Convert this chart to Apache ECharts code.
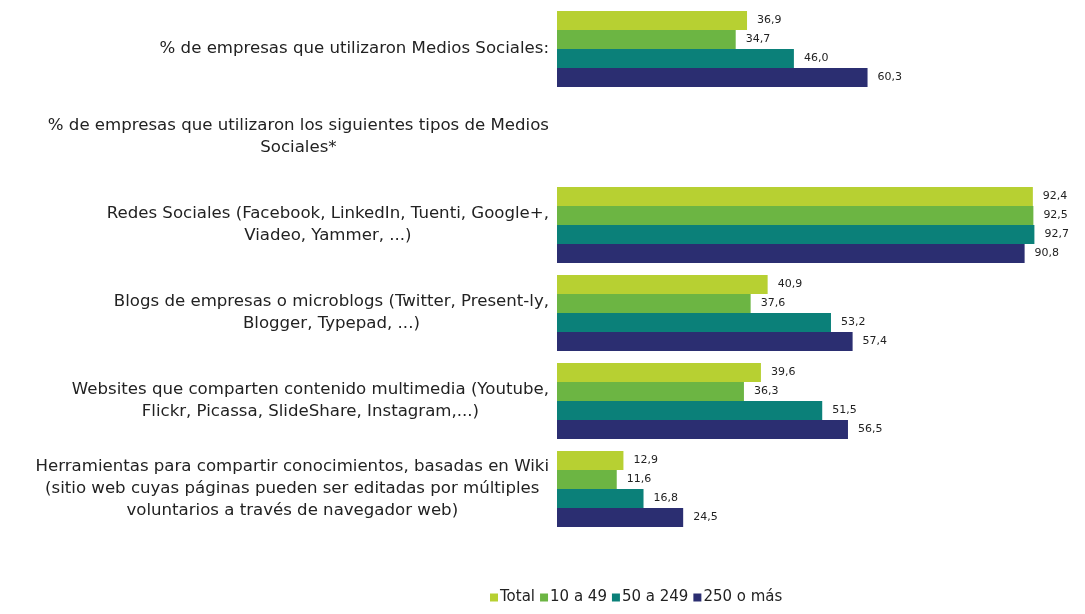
<!DOCTYPE html>
<html><head><meta charset="utf-8">
<script src="https://cdn.jsdelivr.net/npm/echarts@6/dist/echarts.min.js"></script>
<style>html,body{margin:0;padding:0;background:#fff}#c{width:1085px;height:614px}</style>
</head><body><div id="c"></div>
<script>
const categories = [
  "% de empresas que utilizaron Medios Sociales:",
  "% de empresas que utilizaron los siguientes tipos de Medios\nSociales*",
  "Redes Sociales (Facebook, LinkedIn, Tuenti, Google+,\nViadeo, Yammer, ...)",
  "Blogs de empresas o microblogs (Twitter, Present-ly,\nBlogger, Typepad, ...)",
  "Websites que comparten contenido multimedia (Youtube,\nFlickr, Picassa, SlideShare, Instagram,...)",
  "Herramientas para compartir conocimientos, basadas en Wiki\n(sitio web cuyas páginas pueden ser editadas por múltiples\nvoluntarios a través de navegador web)"
];
const seriesNames = ["Total", "10 a 49", "50 a 249", "250 o más"];
const total   = [36.9, null, 92.4, 40.9, 39.6, 12.9];
const s10a49  = [34.7, null, 92.5, 37.6, 36.3, 11.6];
const s50a249 = [46.0, null, 92.7, 53.2, 51.5, 16.8];
const s250    = [60.3, null, 90.8, 57.4, 56.5, 24.5];
const colors = ["#b7d032", "#6cb543", "#0b8079", "#2b2e71"];
const FONT = "'DejaVu Sans', Arial, sans-serif";

const chart = echarts.init(document.getElementById('c'));
const allData = [total, s10a49, s50a249, s250];
chart.setOption({
  animation: false,
  grid: { left: 557, width: 515, top: 5, bottom: 81 },
  xAxis: { type: 'value', min: 0, max: 100, show: false },
  yAxis: {
    type: 'category', inverse: true, data: categories,
    axisLine: { show: false }, axisTick: { show: false },
    axisLabel: {
      margin: 8, align: 'right',
      formatter: v => v.split('\n').map(l => '{c|' + l + '}').join('\n'),
      rich: { c: { align: 'center', fontSize: 16.6, lineHeight: 22, color: '#222', fontFamily: FONT } }
    }
  },
  legend: {
    bottom: 4, left: 485, itemWidth: 8, itemHeight: 8, itemGap: 5,
    icon: 'rect',
    textStyle: { fontSize: 15, color: '#222', fontFamily: FONT, padding: [0, 0, 0, -3] },
    data: seriesNames
  },
  series: allData.map((d, i) => ({
    name: seriesNames[i], type: 'bar', data: d,
    barGap: '0%', barCategoryGap: '13.6%',
    itemStyle: { color: colors[i] },
    label: {
      show: true, position: 'right', distance: 10,
      fontSize: 11, color: '#222', fontFamily: FONT,
      formatter: p => p.value == null ? '' : p.value.toFixed(1).replace('.', ',')
    }
  }))
});
</script></body></html>
